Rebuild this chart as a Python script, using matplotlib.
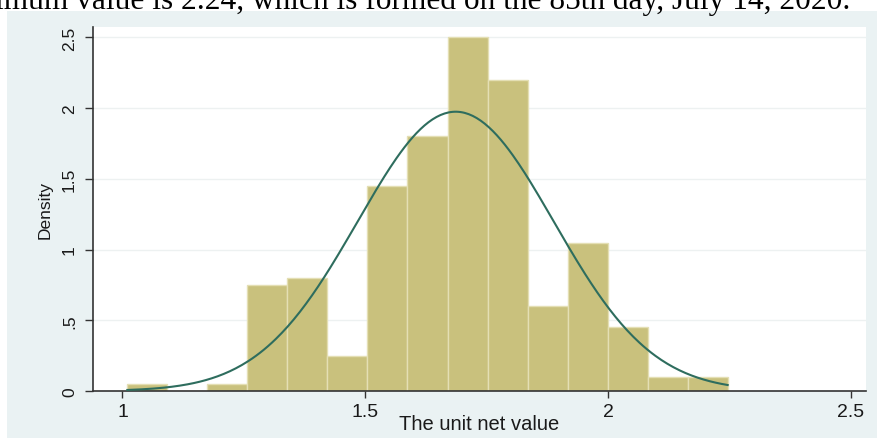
import numpy as np
import matplotlib
matplotlib.use("Agg")
import matplotlib.pyplot as plt
from matplotlib.patches import Rectangle

# Histogram of the unit net value (Stata style, density scale)
BIN_START = 1.01
BIN_WIDTH = 0.0824
DENSITY = [0.05, 0.0, 0.05, 0.75, 0.80, 0.25, 1.45, 1.80, 2.50, 2.20, 0.60, 1.05, 0.45, 0.10, 0.10]

# Fitted normal curve parameters and data range
NORM_MEAN = 1.686
NORM_SD = 0.202
DATA_MIN = 1.01
DATA_MAX = 2.246

X_TICKS = [1, 1.5, 2, 2.5]
X_TICK_LABELS = ["1", "1.5", "2", "2.5"]
Y_TICKS = [0, 0.5, 1, 1.5, 2, 2.5]
Y_TICK_LABELS = ["0", ".5", "1", "1.5", "2", "2.5"]

TOP_TEXT = "imum value is 2.24, which is formed on the 85th day, July 14, 2020."

W, H = 877, 439
BG = "#EAF2F3"
BAR_COLOR = "#C9C17D"
BAR_EDGE = "#E4DFB4"
LINE_COLOR = "#2E6D5E"

plt.rcParams["font.family"] = ["Liberation Sans", "DejaVu Sans"]

fig = plt.figure(figsize=(W / 100, H / 100), dpi=100)
fig.patch.set_facecolor("white")

# graph region background (behind the axes)
bg = Rectangle((7 / W, 0), 1, (H - 12) / H, transform=fig.transFigure,
               facecolor=BG, edgecolor="none", zorder=-10)
fig.add_artist(bg)

ax = fig.add_axes([93 / W, (H - 392) / H, (866 - 93) / W, (392 - 28) / H])
ax.set_facecolor("white")
ax.set_zorder(1)

lefts = [BIN_START + i * BIN_WIDTH for i in range(len(DENSITY))]
ax.bar(lefts, DENSITY, width=BIN_WIDTH, align="edge", color=BAR_COLOR,
       edgecolor=BAR_EDGE, linewidth=1.0, zorder=2)

xs = np.linspace(DATA_MIN, DATA_MAX, 300)
pdf = np.exp(-0.5 * ((xs - NORM_MEAN) / NORM_SD) ** 2) / (NORM_SD * np.sqrt(2 * np.pi))
ax.plot(xs, pdf, color=LINE_COLOR, linewidth=1.5, zorder=3)

ax.set_xlim(0.9393, 2.5308)
ax.set_ylim(0, 2.574)

for yv in Y_TICKS[1:]:
    ax.axhline(yv, color="#EDF1F1", linewidth=1.0, zorder=1)

ax.set_xticks(X_TICKS)
ax.set_xticklabels(X_TICK_LABELS, fontsize=14, color="#1a1a1a")
ax.set_yticks(Y_TICKS)
ax.set_yticklabels(Y_TICK_LABELS, fontsize=12.5, color="#1a1a1a", rotation=90, va="center")
ax.tick_params(axis="x", length=5, width=1, color="#333333", pad=3.5)
ax.tick_params(axis="y", length=5.5, width=1, color="#333333", pad=6)

for side in ["top", "right"]:
    ax.spines[side].set_visible(False)
for side in ["left", "bottom"]:
    ax.spines[side].set_color("#333333")
    ax.spines[side].set_linewidth(1.2)

ax.set_xlabel("The unit net value", fontsize=14.5, color="#1a1a1a", va="baseline")
ax.xaxis.set_label_coords(0.5, -(430 - 392) / 364)
ax.set_ylabel("Density", fontsize=12.5, color="#1a1a1a", va="center")
ax.yaxis.set_label_coords((45 - 93) / 773, 0.5)

fig.text(850 / W, (H - 9.5) / H, TOP_TEXT, ha="right", va="baseline",
         fontsize=22.6, family=["Liberation Serif", "DejaVu Serif"], color="black")

fig.savefig("out.png", dpi=100)
